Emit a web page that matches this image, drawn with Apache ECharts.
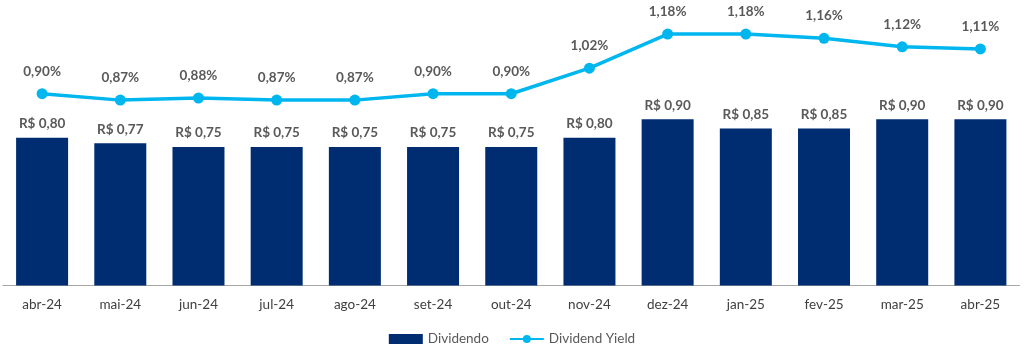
<!DOCTYPE html>
<html><head><meta charset="utf-8">
<script src="https://cdn.jsdelivr.net/npm/echarts@6/dist/echarts.min.js"></script>
<style>html,body{margin:0;padding:0;background:#fff}#c{width:1024px;height:355px}</style>
</head><body><div id="c"></div>
<script>
const categories = ['abr-24','mai-24','jun-24','jul-24','ago-24','set-24','out-24','nov-24','dez-24','jan-25','fev-25','mar-25','abr-25'];
const dividendo = [0.80,0.77,0.75,0.75,0.75,0.75,0.75,0.80,0.90,0.85,0.85,0.90,0.90];
const dividendYield = [0.90,0.87,0.88,0.87,0.87,0.90,0.90,1.02,1.18,1.18,1.16,1.12,1.11];
const FONT = 'Lato, "Open Sans", sans-serif';
const chart = echarts.init(document.getElementById('c'));
chart.setOption({
  animation:false,
  textStyle:{fontFamily:FONT},
  grid:{left:3,right:4.5,top:8.5,height:277,containLabel:false},
  legend:{
    bottom:4,left:'center',itemGap:20,itemWidth:34,itemHeight:10,
    textStyle:{color:'#595959',fontSize:13.5,fontFamily:FONT},
    data:[{name:'Dividendo',icon:'rect'},{name:'Dividend Yield'}]
  },
  xAxis:{
    type:'category',data:categories,
    axisLine:{lineStyle:{color:'#a6a6a6',width:1}},
    axisTick:{show:false},
    axisLabel:{color:'#404040',fontSize:13.5,margin:12,fontFamily:FONT}
  },
  yAxis:[
    {type:'value',min:0,max:1.5,show:false,splitLine:{show:false}},
    {type:'value',min:0,max:1.3,show:false,splitLine:{show:false}}
  ],
  series:[
    {name:'Dividendo',type:'bar',data:dividendo,barWidth:52,yAxisIndex:0,
     itemStyle:{color:'#002D72'},
     label:{show:true,position:'top',distance:7,color:'#595959',fontWeight:'bold',fontSize:13.5,fontFamily:FONT,
       formatter:p=>'R$ '+p.value.toFixed(2).replace('.',',')}},
    {name:'Dividend Yield',type:'line',data:dividendYield,yAxisIndex:1,
     symbol:'circle',symbolSize:11,lineStyle:{color:'#00B6EF',width:3.5},
     itemStyle:{color:'#00B6EF'},
     label:{show:true,position:'top',distance:10,color:'#595959',fontWeight:'bold',fontSize:13.5,fontFamily:FONT,
       formatter:p=>p.value.toFixed(2).replace('.',',')+'%'}}
  ]
});
</script></body></html>
